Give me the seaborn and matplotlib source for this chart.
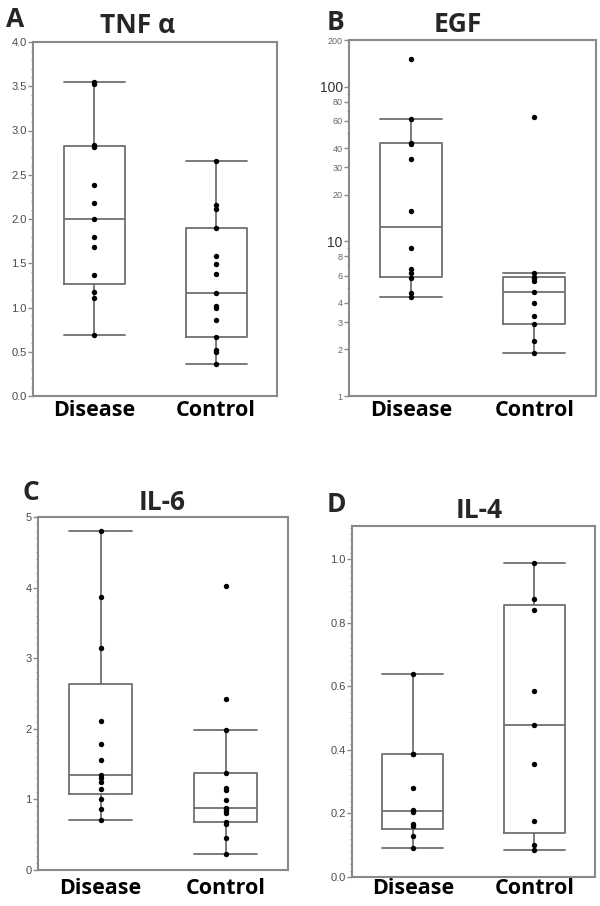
import numpy as np
import pandas as pd
import matplotlib
matplotlib.use("Agg")
import matplotlib.pyplot as plt
import seaborn as sns
from matplotlib.ticker import MultipleLocator, FixedLocator, NullFormatter

# ---------- data ----------
groups = ["Disease", "Control"]

tnf_disease = [3.55, 3.52, 2.84, 2.81, 2.38, 2.18, 2.00, 1.80, 1.68, 1.37, 1.17, 1.11, 0.69]
tnf_control = [2.65, 2.16, 2.11, 1.90, 1.58, 1.49, 1.38, 1.16, 1.02, 0.99, 0.86, 0.67, 0.52, 0.50, 0.36]

egf_disease = [150, 62, 43.3, 42.3, 34, 15.7, 9.0, 6.6, 6.25, 5.8, 4.6, 4.35]
egf_control = [64, 6.25, 5.89, 5.75, 5.55, 4.7, 4.0, 3.3, 2.9, 2.28, 1.9]

il6_disease = [4.80, 3.86, 3.15, 2.11, 1.78, 1.56, 1.35, 1.30, 1.25, 1.15, 1.00, 0.86, 0.71]
il6_control = [4.02, 2.42, 1.99, 1.37, 1.16, 1.13, 0.99, 0.875, 0.86, 0.84, 0.81, 0.68, 0.65, 0.45, 0.22]

il4_disease = [0.64, 0.386, 0.386, 0.281, 0.212, 0.205, 0.168, 0.16, 0.13, 0.092]
il4_control = [0.99, 0.876, 0.839, 0.584, 0.477, 0.355, 0.175, 0.10, 0.084]

titles = ["TNF α", "EGF", "IL-6", "IL-4"]
letters = ["A", "B", "C", "D"]
egf_ticks = [1, 2, 3, 4, 6, 8, 10, 20, 30, 40, 60, 80, 100, 200]

W, H = 600, 906
BOX_C = "#6f6f6f"
FRAME_C = "#8a8a8a"
TEXT_FONT = ["Open Sans", "DejaVu Sans"]

sns.set_style("white")
plt.rcParams["font.family"] = ["Liberation Sans", "DejaVu Sans"]


def px_rect(l, r, t, b):
    return [l / W, 1 - b / H, (r - l) / W, (b - t) / H]


def box_stats(vals):
    # JMP-style quantiles, whiskers to last point within 1.5 IQR
    v = np.asarray(vals, dtype=float)
    q1, med, q3 = np.percentile(v, [25, 50, 75], method="weibull")
    iqr = q3 - q1
    lo = v[v >= q1 - 1.5 * iqr].min()
    hi = v[v <= q3 + 1.5 * iqr].max()
    return dict(med=med, q1=q1, q3=q3, whislo=lo, whishi=hi, fliers=[])


def draw_panel(ax, disease, control, log=False):
    df = pd.DataFrame({
        "group": ["Disease"] * len(disease) + ["Control"] * len(control),
        "value": list(disease) + list(control),
    })
    if log:
        ax.set_yscale("log")
    sns.stripplot(data=df, x="group", y="value", order=groups, jitter=False,
                  color="black", size=3.9, linewidth=0, zorder=3, ax=ax)
    line = dict(color=BOX_C, linewidth=1.3)
    ax.bxp([box_stats(disease), box_stats(control)], positions=[0, 1],
           widths=0.5, capwidths=0.5, showfliers=False, manage_ticks=False,
           boxprops=line, whiskerprops=line, capprops=line,
           medianprops=line)
    ax.set_xlim(-0.5, 1.5)
    ax.set_xlabel("")
    ax.set_ylabel("")
    ax.set_xticks([0, 1])
    ax.set_xticklabels(groups, fontsize=15.5, fontweight="bold",
                       family=TEXT_FONT, color="black")
    ax.tick_params(axis="x", length=0, pad=3)
    ax.tick_params(axis="y", which="major", left=True, length=3.5, width=1,
                   color=FRAME_C, labelsize=8, labelcolor="#4a4a4a", pad=1)
    ax.tick_params(axis="y", which="minor", left=True, length=1.8, width=0.8,
                   color=FRAME_C)
    for s in ax.spines.values():
        s.set_visible(True)
        s.set_color(FRAME_C)
        s.set_linewidth(1.5)


fig = plt.figure(figsize=(W / 100, H / 100), dpi=100)

axA = fig.add_axes(px_rect(33, 277, 42, 396))
draw_panel(axA, tnf_disease, tnf_control)
axA.set_ylim(0, 4)
axA.yaxis.set_major_locator(MultipleLocator(0.5))
axA.yaxis.set_minor_locator(MultipleLocator(0.1))
axA.yaxis.set_major_formatter(matplotlib.ticker.FormatStrFormatter("%.1f"))

axB = fig.add_axes(px_rect(349, 596, 40, 396))
draw_panel(axB, egf_disease, egf_control, log=True)
axB.set_ylim(1, 200)
axB.yaxis.set_major_locator(FixedLocator(egf_ticks))
axB.yaxis.set_minor_locator(FixedLocator([5, 7, 9, 50, 70, 90]))
axB.yaxis.set_minor_formatter(NullFormatter())
axB.set_yticklabels([str(t) for t in egf_ticks])
for lab, t in zip(axB.get_yticklabels(), egf_ticks):
    if t in (10, 100):
        lab.set_fontsize(10)
        lab.set_color("#333333")
    else:
        lab.set_fontsize(6.5)
        lab.set_color("#666666")

axC = fig.add_axes(px_rect(38, 288, 517, 870))
draw_panel(axC, il6_disease, il6_control)
axC.set_ylim(0, 5)
axC.yaxis.set_major_locator(MultipleLocator(1))
axC.yaxis.set_minor_locator(MultipleLocator(0.1))
axC.tick_params(axis="x", pad=6)

axD = fig.add_axes(px_rect(352, 595, 526, 877))
draw_panel(axD, il4_disease, il4_control)
axD.set_ylim(0, 1.105)
axD.yaxis.set_major_locator(MultipleLocator(0.2))
axD.yaxis.set_minor_locator(MultipleLocator(0.02))
axD.yaxis.set_major_formatter(matplotlib.ticker.FormatStrFormatter("%.1f"))
axD.tick_params(axis="x", pad=1)

# panel titles and letters
title_pos = [(138, 33), (458, 32), (162, 510), (479, 518)]
letter_pos = [(6, 27), (327, 30), (22, 500), (327, 512)]
for t, (x, y) in zip(titles, title_pos):
    fig.text(x / W, 1 - y / H, t, ha="center", va="baseline",
             fontsize=19, fontweight="bold", family=TEXT_FONT)
for l, (x, y) in zip(letters, letter_pos):
    fig.text(x / W, 1 - y / H, l, ha="left", va="baseline",
             fontsize=19, fontweight="bold", family=TEXT_FONT)

fig.savefig("out.png", dpi=100, facecolor="white")
